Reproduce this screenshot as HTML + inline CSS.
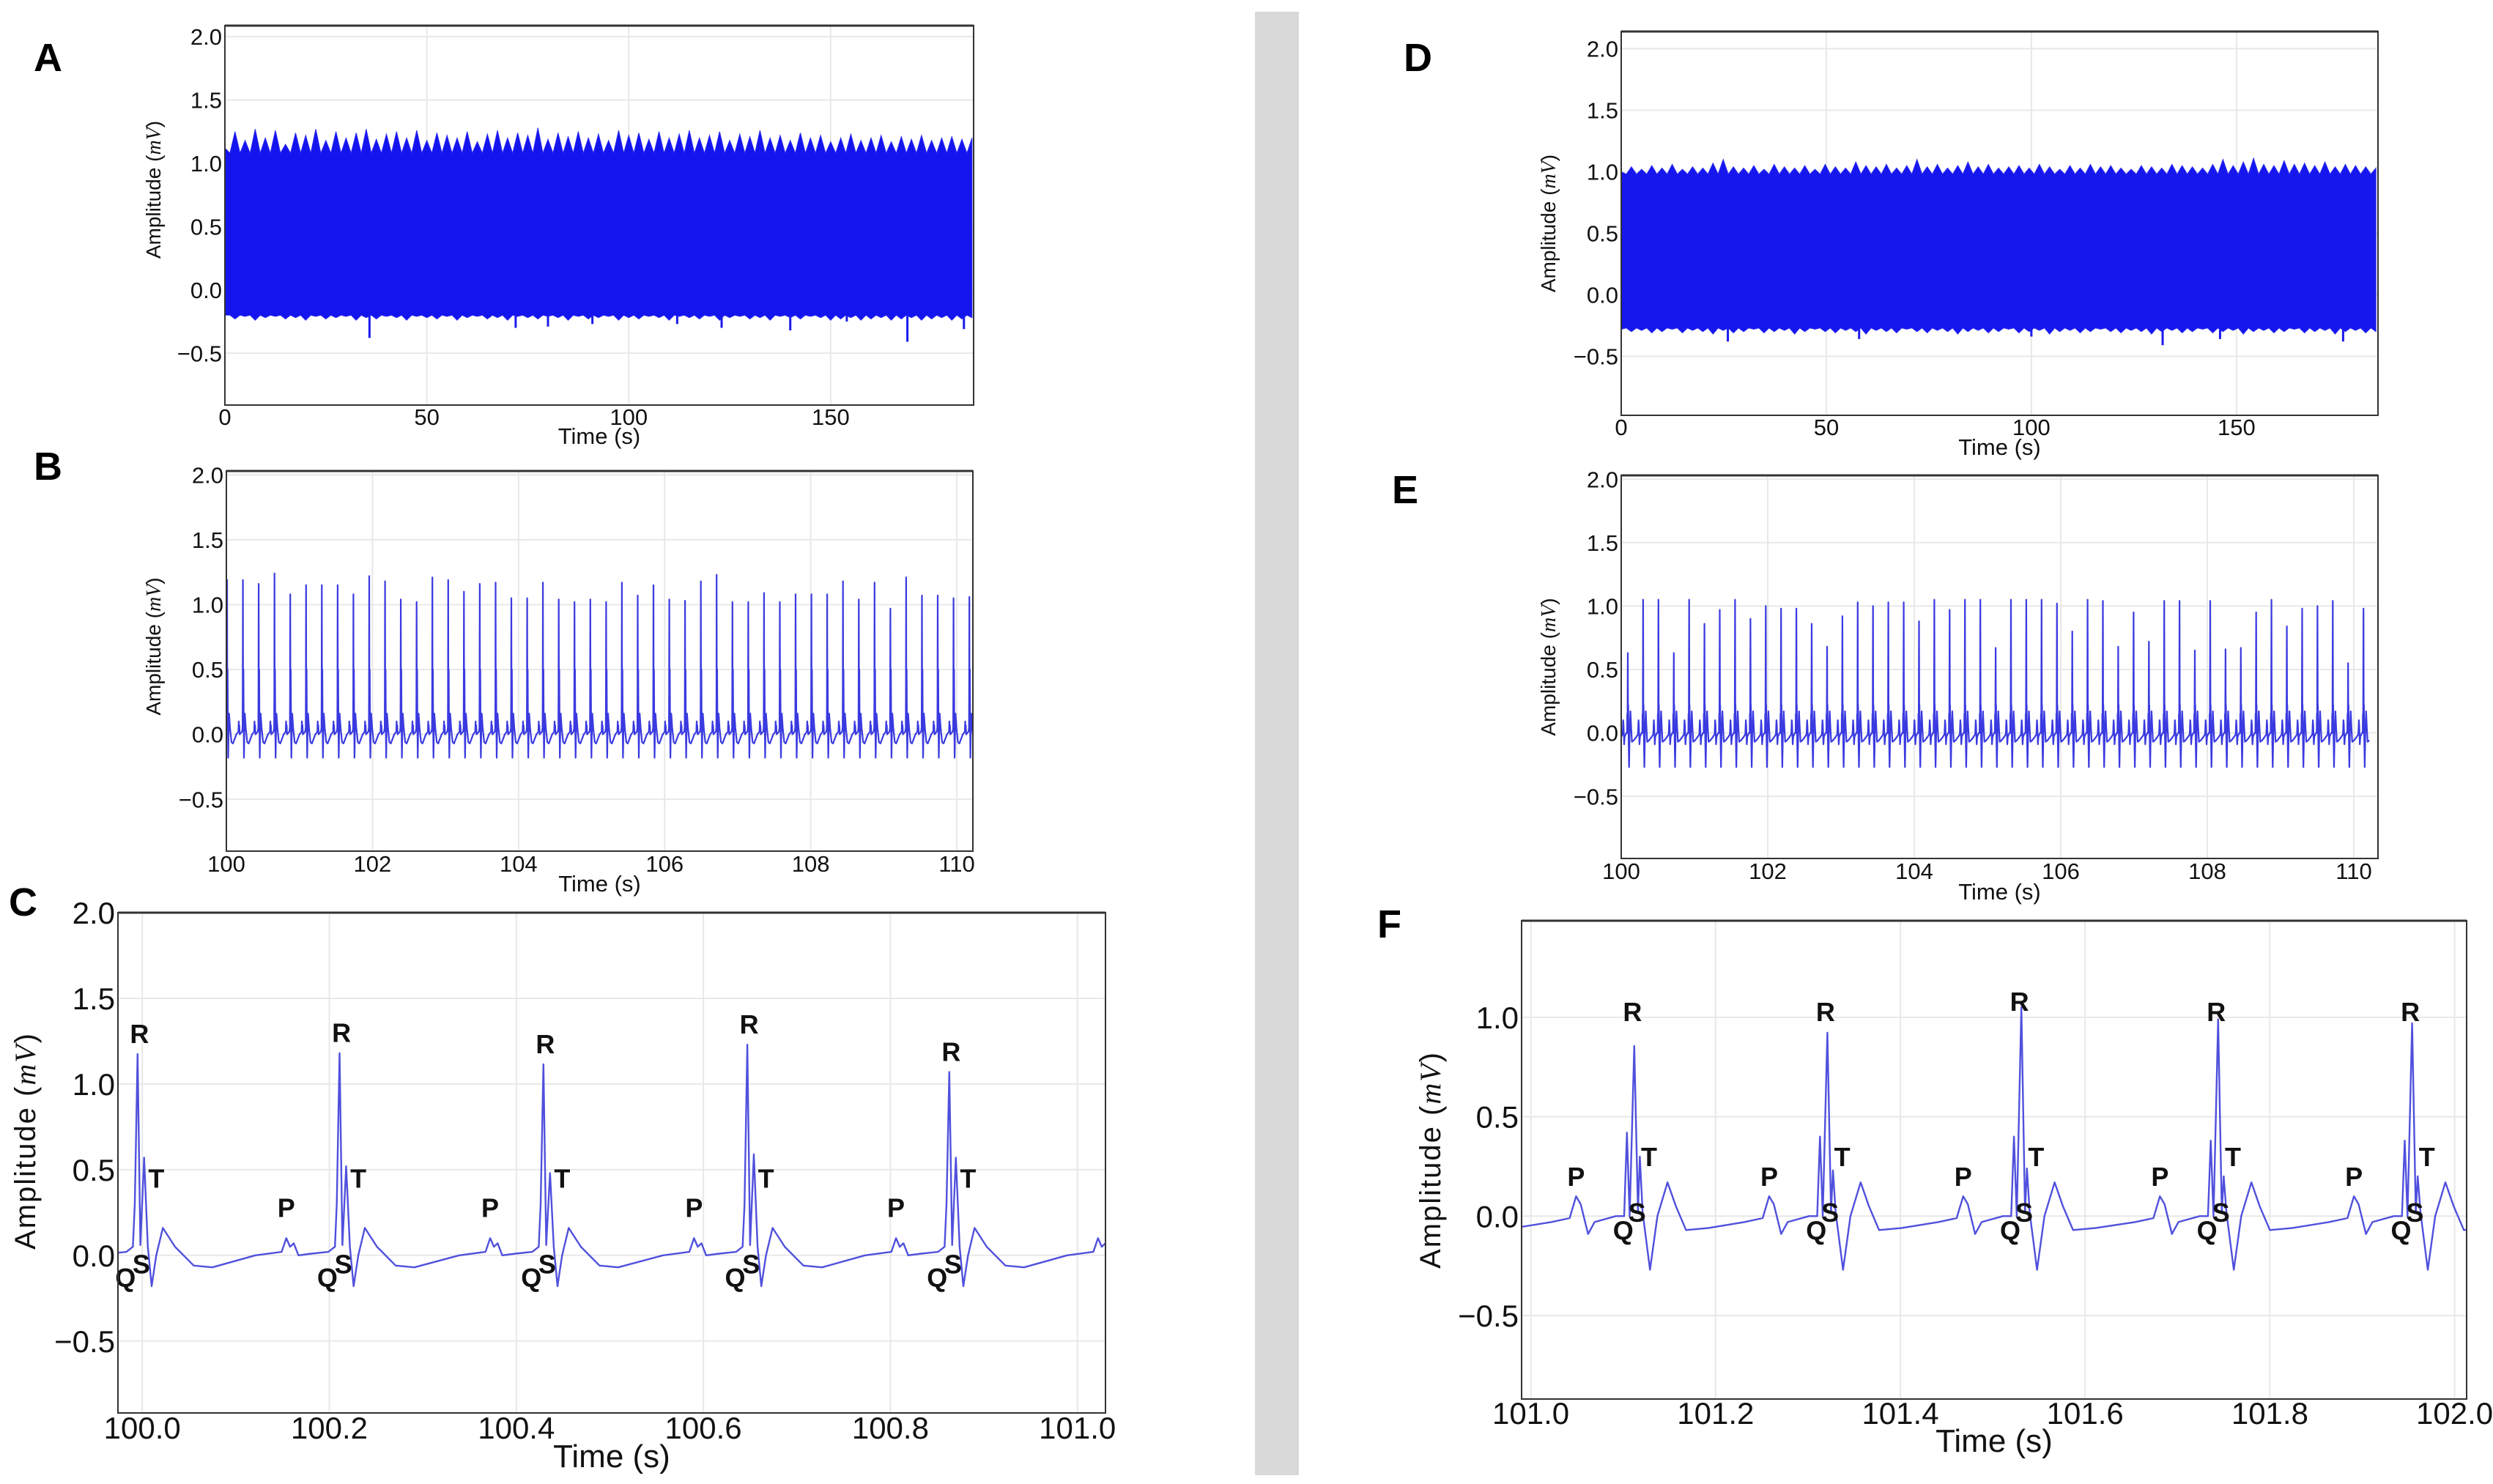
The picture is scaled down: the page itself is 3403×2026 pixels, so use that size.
<!DOCTYPE html>
<html><head><meta charset="utf-8"><style>
html,body{margin:0;padding:0;background:#fff;}
svg{display:block;}
text{font-family:"Liberation Sans",sans-serif;}
</style></head><body>
<svg id="fig" width="3403" height="2026" viewBox="0 0 3403 2026" xmlns="http://www.w3.org/2000/svg">
<rect x="0" y="0" width="3403" height="2026" fill="#fff"/>
<rect x="1713" y="16" width="60" height="1998" fill="#d9d9d9"/>
</svg>
<script>
// ---------- data ----------
// Panel A: envelope of full recording (every 2.5 s)
const upperA = [1.12,1.25,1.18,1.27,1.2,1.26,1.15,1.24,1.22,1.27,1.18,1.25,1.2,1.24,1.27,1.19,1.23,1.25,1.2,1.26,1.18,1.24,1.22,1.2,1.25,1.17,1.23,1.26,1.2,1.24,1.22,1.28,1.19,1.24,1.21,1.25,1.2,1.23,1.18,1.26,1.22,1.24,1.19,1.25,1.2,1.23,1.26,1.2,1.22,1.25,1.18,1.23,1.21,1.26,1.2,1.22,1.18,1.24,1.2,1.22,1.17,1.2,1.23,1.18,1.2,1.22,1.17,1.21,1.19,1.22,1.18,1.2,1.21,1.19,1.2];
const lowerA = [-0.2,-0.23,-0.21,-0.24,-0.22,-0.21,-0.23,-0.22,-0.24,-0.21,-0.23,-0.22,-0.21,-0.24,-0.22,-0.23,-0.21,-0.22,-0.24,-0.21,-0.22,-0.23,-0.21,-0.24,-0.22,-0.21,-0.23,-0.22,-0.24,-0.21,-0.22,-0.23,-0.21,-0.22,-0.24,-0.21,-0.23,-0.22,-0.21,-0.24,-0.22,-0.23,-0.21,-0.22,-0.24,-0.21,-0.22,-0.23,-0.21,-0.24,-0.22,-0.21,-0.23,-0.22,-0.24,-0.21,-0.22,-0.23,-0.21,-0.22,-0.24,-0.23,-0.22,-0.24,-0.23,-0.22,-0.24,-0.23,-0.22,-0.24,-0.23,-0.22,-0.24,-0.23,-0.22];
const outlierTimesA = [35.8,72,80,91,112,123,140,154,169,183];
const outlierValsA = [-0.38,-0.3,-0.29,-0.27,-0.27,-0.3,-0.32,-0.25,-0.41,-0.31];
// Panel D
const upperD = [1.0,1.04,1.02,1.05,1.03,1.06,1.02,1.04,1.03,1.07,1.1,1.04,1.03,1.05,1.02,1.06,1.04,1.03,1.05,1.02,1.06,1.04,1.03,1.08,1.05,1.04,1.06,1.03,1.05,1.1,1.04,1.06,1.03,1.05,1.08,1.04,1.06,1.03,1.04,1.05,1.03,1.06,1.04,1.02,1.05,1.03,1.06,1.04,1.05,1.03,1.02,1.05,1.04,1.03,1.06,1.05,1.04,1.03,1.06,1.1,1.05,1.08,1.11,1.06,1.05,1.09,1.06,1.07,1.05,1.08,1.04,1.06,1.05,1.04,1.03];
const lowerD = [-0.28,-0.3,-0.29,-0.31,-0.3,-0.28,-0.31,-0.29,-0.3,-0.32,-0.29,-0.31,-0.3,-0.28,-0.31,-0.3,-0.29,-0.32,-0.3,-0.28,-0.3,-0.31,-0.29,-0.3,-0.32,-0.29,-0.3,-0.31,-0.28,-0.3,-0.31,-0.29,-0.3,-0.32,-0.3,-0.29,-0.31,-0.3,-0.28,-0.31,-0.3,-0.29,-0.32,-0.3,-0.29,-0.31,-0.3,-0.28,-0.3,-0.31,-0.29,-0.3,-0.32,-0.3,-0.29,-0.31,-0.3,-0.28,-0.31,-0.3,-0.29,-0.32,-0.3,-0.29,-0.31,-0.3,-0.28,-0.31,-0.3,-0.29,-0.32,-0.3,-0.29,-0.31,-0.3];
const outlierTimesD = [26,58,100,132,146,176];
const outlierValsD = [-0.38,-0.36,-0.34,-0.41,-0.36,-0.38];
// Panel B: R-peak amplitudes, beats evenly spaced
const rB = [1.19,1.19,1.16,1.24,1.08,1.15,1.15,1.15,1.08,1.22,1.18,1.04,1.02,1.21,1.19,1.1,1.16,1.17,1.05,1.05,1.17,1.04,1.02,1.04,1.02,1.17,1.07,1.15,1.04,1.03,1.18,1.23,1.02,1.02,1.09,1.02,1.08,1.08,1.08,1.18,1.04,1.17,0.97,1.21,1.07,1.07,1.05,1.06];
const startB = 100.01, rrB = 0.2162;
// Panel E
const rE = [0.63,1.05,1.05,0.63,1.05,0.86,0.97,1.05,0.9,1.0,0.98,0.98,0.86,0.68,0.92,1.03,1.0,1.03,1.03,0.88,1.05,0.97,1.05,1.05,0.67,1.05,1.05,1.05,1.02,0.8,1.05,1.04,0.68,0.95,0.72,1.04,1.04,0.65,1.04,0.66,0.67,0.95,1.05,0.84,0.98,1.0,1.04,0.55,0.98];
const startE = 100.09, rrE = 0.2092;
// Panel C
const timesC = [99.78,99.995,100.211,100.429,100.647,100.863,101.079];
const rC = [1.1,1.175,1.18,1.115,1.23,1.07,1.1];
const s2C = [0.55,0.57,0.52,0.48,0.59,0.57,0.55];
// Panel F
const timesF = [100.902,101.112,101.321,101.531,101.744,101.954,102.164];
const rF = [0.95,0.856,0.923,1.05,0.99,0.97,0.95];
const s2F = [0.25,0.3,0.23,0.24,0.2,0.2,0.2];
const preF = [0.4,0.42,0.4,0.4,0.38,0.38,0.38];
const tickLabelsY = ["\u22120.5","0.0","0.5","1.0","1.5","2.0"];
const tickValsY = [-0.5,0,0.5,1.0,1.5,2.0];

// ---------- helpers ----------
const NS = "http://www.w3.org/2000/svg";
const svg = document.getElementById('fig');
function mk(tag, attrs, parent){
  const el = document.createElementNS(NS, tag);
  for (const k in attrs) el.setAttribute(k, attrs[k]);
  (parent||svg).appendChild(el);
  return el;
}
function panel(o){
  const g = mk('g', {});
  
  
  const b = o.box;
  const sx = v => b.l + (v - o.x[0]) / (o.x[1]-o.x[0]) * (b.r-b.l);
  const sy = v => b.b - (v - o.y[0]) / (o.y[1]-o.y[0]) * (b.b-b.t);
  // grid
  o.xticks.forEach((v,i)=>{
    const ln = mk('line',{x1:sx(v),x2:sx(v),y1:b.t,y2:b.b,stroke:'#e8e8e8','stroke-width':2},g);
    
    
    const t = mk('text',{x:sx(v),y:o.xty,'font-size':o.tf,'text-anchor':'middle',fill:'#111'},g);
    
    
    t.textContent = o.xlab[i];
  });
  o.yv.forEach((v,i)=>{
    const ln = mk('line',{x1:b.l,x2:b.r,y1:sy(v),y2:sy(v),stroke:'#e8e8e8','stroke-width':2},g);
    
    
    const t = mk('text',{x:b.l-4,y:sy(v)+o.tf*0.36,'font-size':o.tf,'text-anchor':'end',fill:'#111'},g);
    
    
    t.textContent = o.ylab[i];
  });
  const xt = mk('text',{x:(b.l+b.r)/2,y:o.xtitleY,'font-size':o.titf,'text-anchor':'middle',fill:'#111'},g);
  
  
  xt.textContent = 'Time (s)';
  const yt = mk('text',{x:0,y:0,'font-size':o.ytf,'text-anchor':'middle',fill:'#111',transform:`translate(${o.ytx},${(b.t+b.b)/2+o.ytdy}) rotate(-90)`,'letter-spacing':o.yls||0},g);
  
  
  yt.appendChild(document.createTextNode('Amplitude ('));
  const ts = mk('tspan',{'font-family':'"Liberation Serif",serif','font-style':'italic'},yt);
  ts.textContent = 'mV';
  yt.appendChild(document.createTextNode(')'));
  const lt = mk('text',{x:o.letter[0],y:o.letter[1],'font-size':54,'font-weight':'bold',fill:'#000'},g);
  
  
  lt.textContent = o.letter[2];
  const cid = 'clip-'+o.name;
  const cp = mk('clipPath',{id:cid},g);
  mk('rect',{x:b.l,y:b.t,width:b.r-b.l,height:b.b-b.t},cp);
  const plot = mk('g',{'clip-path':`url(#${cid})`},g);
  
  
  return {g, plot, sx, sy, b, frame(){
    const fr = mk('rect',{x:b.l,y:b.t,width:b.r-b.l,height:b.b-b.t,fill:'none',stroke:'#333','stroke-width':2},g);
    
    
    const tp = mk('line',{x1:b.l,x2:b.r,y1:b.t,y2:b.t,stroke:'#333','stroke-width':3},g);
    
    
  }};
}
function bandPath(P, upper, lower, coreTop, coreBot, span){
  const step = span/(upper.length-1);
  let d = '';
  upper.forEach((v,i)=>{
    const t = i*step;
    d += (i?'L':'M') + P.sx(t) + ',' + P.sy(v) + 'L' + P.sx(Math.min(span,t+step/2)) + ',' + P.sy(coreTop);
  });
  for (let i=lower.length-1;i>=0;i--){
    const t = i*step;
    d += 'L' + P.sx(Math.min(span,t+step/2)) + ',' + P.sy(coreBot) + 'L' + P.sx(t) + ',' + P.sy(lower[i]);
  }
  return d+'Z';
}
// beat templates: [dt, value | 'R' | 'S2' | 'PRE']
const tmplC = [[-0.09,0.0],[-0.062,0.02],[-0.057,0.10],[-0.053,0.05],[-0.049,0.07],[-0.044,0.0],[-0.03,0.01],[-0.012,0.02],[-0.005,0.05],[-0.003,0.3],[0,'R'],[0.003,0.06],[0.007,'S2'],[0.011,0.05],[0.015,-0.18],[0.02,0.0],[0.027,0.16],[0.04,0.05],[0.06,-0.06],[0.08,-0.07]];
const tmplF = [[-0.09,-0.03],[-0.07,-0.01],[-0.063,0.10],[-0.058,0.06],[-0.05,-0.09],[-0.043,-0.03],[-0.02,0.0],[-0.011,0.0],[-0.008,'PRE'],[-0.005,0.0],[0,'R'],[0.004,0.02],[0.006,'S2'],[0.009,0.02],[0.017,-0.27],[0.025,0.0],[0.036,0.17],[0.045,0.05],[0.056,-0.07],[0.08,-0.06]];
function beatPath(P, times, rs, s2s, pres, tmpl){
  let d = '';
  times.forEach((t,i)=>{
    tmpl.forEach(p=>{
      let v = p[1];
      if (v==='R') v = rs[i]; else if (v==='S2') v = s2s[i]; else if (v==='PRE') v = pres[i];
      d += (d?'L':'M') + P.sx(t+p[0]).toFixed(1) + ',' + P.sy(v).toFixed(1);
    });
  });
  return d;
}
function constArr(n, v){ return Array.from({length:n}, ()=>v); }

// ---------- Panel A ----------
const A = panel({name:'panel-a', box:{l:307,t:35,r:1329,b:553}, x:[0,185.4], y:[-0.91,2.087],
  xticks:[0,50,100,150], xlab:['0','50','100','150'], yv:tickValsY, ylab:tickLabelsY,
  tf:31, xty:580, xtitleY:606, titf:31, ytf:28, ytx:219, ytdy:-35, letter:[46,97,'A']});
let pa = mk('path',{d:bandPath(A,upperA,lowerA,1.08,-0.2,185),fill:'#1414ee',stroke:'#2a2af0','stroke-width':1},A.plot);


outlierTimesA.forEach((t,i)=>{
  const l = mk('line',{x1:A.sx(t),x2:A.sx(t),y1:A.sy(-0.2),y2:A.sy(outlierValsA[i]),stroke:'#1a1aee','stroke-width':3},A.plot);
  
  
});
A.frame();

// ---------- Panel B ----------
const B = panel({name:'panel-b', box:{l:309,t:643,r:1328,b:1162}, x:[100,110.22], y:[-0.9,2.03],
  xticks:[100,102,104,106,108,110], xlab:['100','102','104','106','108','110'], yv:tickValsY, ylab:tickLabelsY,
  tf:31, xty:1190, xtitleY:1217, titf:31, ytf:28, ytx:219, ytdy:-20, letter:[46,655,'B']});
const timesB = rB.map((r,i)=>startB+i*rrB);
let pb = mk('path',{d:beatPath(B,timesB,rB,constArr(rB.length,0.5),constArr(rB.length,0.3),tmplC),fill:'none',stroke:'#3a3ae0','stroke-width':2.2,'stroke-linejoin':'round'},B.plot);


B.frame();

// ---------- Panel C ----------
const C = panel({name:'panel-c', box:{l:161,t:1246,r:1509,b:1929}, x:[99.974,101.03], y:[-0.92,2.0],
  xticks:[100,100.2,100.4,100.6,100.8,101.0], xlab:['100.0','100.2','100.4','100.6','100.8','101.0'], yv:tickValsY, ylab:tickLabelsY,
  tf:42, xty:1964, xtitleY:2003, titf:44, ytf:40, ytx:48, ytdy:-30, yls:2, letter:[12,1250,'C']});
let pc = mk('path',{d:beatPath(C,timesC,rC,s2C,constArr(timesC.length,0.3),tmplC),fill:'none',stroke:'#5050dd','stroke-width':2.4,'stroke-linejoin':'round'},C.plot);


function waveLabels(P, times, rs, spec, name){
  times.forEach((t,i)=>{
    if (t < P.sx.length && false) return;
    spec.forEach(s=>{
      const x = P.sx(t+s[1]);
      if (x < P.b.l || x > P.b.r) return;
      const v = typeof s[2]==='function' ? s[2](rs[i]) : s[2];
      const lb = mk('text',{x:x,y:P.sy(v)+13,'font-size':36,'font-weight':'bold','text-anchor':'middle',fill:'#111'},P.g);
      
      
      lb.textContent = s[0];
    });
  });
}
waveLabels(C, timesC.slice(1,6), rC.slice(1,6), [['R',0.002,r=>r+0.12],['T',0.02,0.45],['P',-0.057,0.28],['Q',-0.013,-0.13],['S',0.004,-0.05]], 'c');
C.frame();

// ---------- Panel D ----------
const D = panel({name:'panel-d', box:{l:2213,t:43,r:3246,b:567}, x:[0,184.5], y:[-0.98,2.14],
  xticks:[0,50,100,150], xlab:['0','50','100','150'], yv:tickValsY, ylab:tickLabelsY,
  tf:31, xty:594, xtitleY:621, titf:31, ytf:28, ytx:2123, ytdy:0, letter:[1916,97,'D']});
let pd = mk('path',{d:bandPath(D,upperD,lowerD,0.98,-0.27,184),fill:'#1616ee',stroke:'#2a2af0','stroke-width':1},D.plot);


outlierTimesD.forEach((t,i)=>{
  const l = mk('line',{x1:D.sx(t),x2:D.sx(t),y1:D.sy(-0.27),y2:D.sy(outlierValsD[i]),stroke:'#1a1aee','stroke-width':3},D.plot);
  
  
});
D.frame();

// ---------- Panel E ----------
const E = panel({name:'panel-e', box:{l:2213,t:649,r:3246,b:1172}, x:[100,110.33], y:[-0.99,2.03],
  xticks:[100,102,104,106,108,110], xlab:['100','102','104','106','108','110'], yv:tickValsY, ylab:tickLabelsY,
  tf:31, xty:1200, xtitleY:1228, titf:31, ytf:28, ytx:2123, ytdy:0, letter:[1900,687,'E']});
const timesE = rE.map((r,i)=>startE+i*rrE);
let pe = mk('path',{d:beatPath(E,timesE,rE,constArr(rE.length,0.22),constArr(rE.length,0.15),tmplF),fill:'none',stroke:'#3a3ae0','stroke-width':2.2,'stroke-linejoin':'round'},E.plot);


E.frame();

// ---------- Panel F ----------
const F = panel({name:'panel-f', box:{l:2077,t:1257,r:3367,b:1910}, x:[100.99,102.013], y:[-0.92,1.486],
  xticks:[101,101.2,101.4,101.6,101.8,102.0], xlab:['101.0','101.2','101.4','101.6','101.8','102.0'], yv:[-0.5,0,0.5,1.0], ylab:['\u22120.5','0.0','0.5','1.0'],
  tf:42, xty:1944, xtitleY:1982, titf:44, ytf:40, ytx:1966, ytdy:0, yls:2, letter:[1880,1280,'F']});
let pf = mk('path',{d:beatPath(F,timesF,rF,s2F,preF,tmplF),fill:'none',stroke:'#5050dd','stroke-width':2.4,'stroke-linejoin':'round'},F.plot);


waveLabels(F, timesF.slice(1,6), rF.slice(1,6), [['R',-0.002,r=>Math.max(1.03,r+0.03)],['T',0.016,0.3],['P',-0.063,0.2],['Q',-0.012,-0.07],['S',0.003,0.02]], 'f');
F.frame();
</script>
</body></html>
